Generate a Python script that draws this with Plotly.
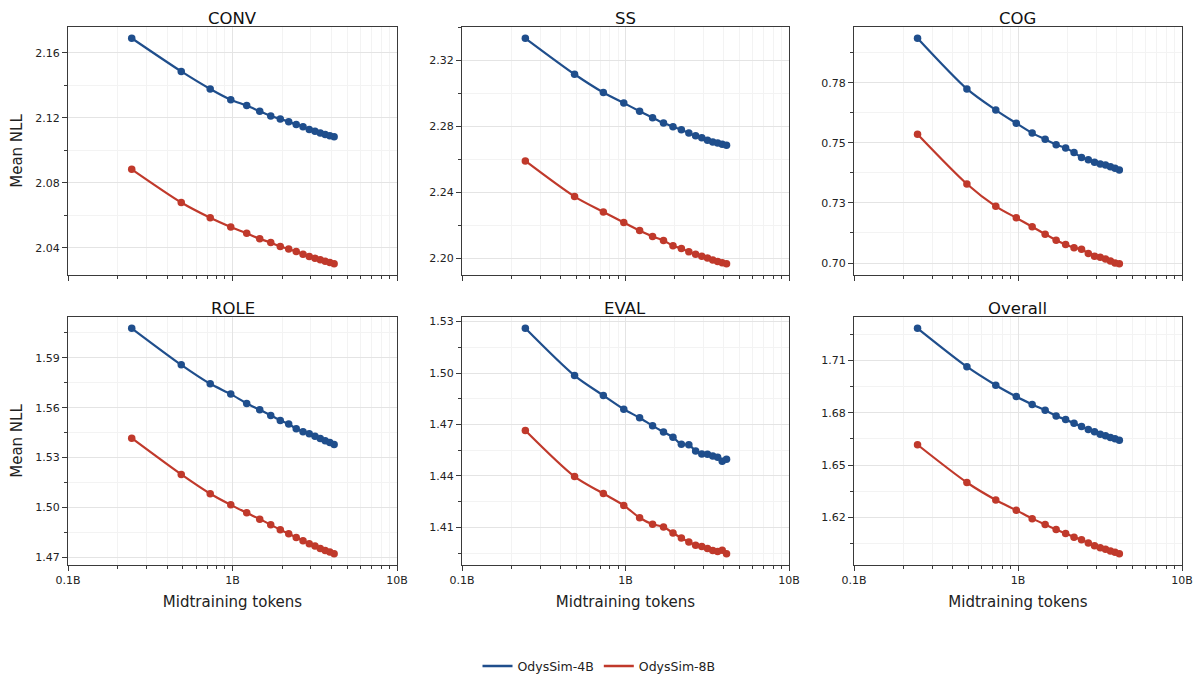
import plotly.graph_objects as go
from plotly.subplots import make_subplots

# ---------------- data ----------------
tokens_b = [0.244, 0.488, 0.732, 0.976, 1.22, 1.464, 1.708, 1.952, 2.196,
            2.44, 2.684, 2.928, 3.172, 3.416, 3.66, 3.904, 4.148]

panel_names = ["CONV", "SS", "COG", "ROLE", "EVAL", "Overall"]
series_names = ["OdysSim-4B", "OdysSim-8B"]

conv_4b = [2.169, 2.1486, 2.1378, 2.1312, 2.1276, 2.1241, 2.1212, 2.1194, 2.1176,
           2.1159, 2.1145, 2.1129, 2.1118, 2.1108, 2.1098, 2.1090, 2.1084]
conv_8b = [2.0884, 2.0680, 2.0586, 2.0529, 2.0490, 2.0456, 2.0433, 2.0409, 2.0394,
           2.0378, 2.0362, 2.0347, 2.0337, 2.0327, 2.0319, 2.0311, 2.0303]

ss_4b = [2.3335, 2.3117, 2.3006, 2.2942, 2.2893, 2.2853, 2.2821, 2.2799, 2.2780,
         2.2760, 2.2744, 2.2732, 2.2716, 2.2706, 2.2700, 2.2692, 2.2686]
ss_8b = [2.2591, 2.2375, 2.2282, 2.2218, 2.2169, 2.2133, 2.2109, 2.2077, 2.2060,
         2.2040, 2.2026, 2.2014, 2.2002, 2.1990, 2.1982, 2.1974, 2.1968]

cog_4b = [0.7936, 0.7725, 0.7637, 0.7582, 0.7541, 0.7515, 0.7493, 0.7479, 0.7460,
          0.7439, 0.7430, 0.7420, 0.7412, 0.7408, 0.7401, 0.7395, 0.7387]
cog_8b = [0.7536, 0.7329, 0.7236, 0.7188, 0.7151, 0.7120, 0.7095, 0.7077, 0.7064,
          0.7057, 0.7040, 0.7028, 0.7024, 0.7017, 0.7008, 0.7000, 0.6997]

role_4b = [1.6078, 1.5858, 1.5744, 1.5682, 1.5626, 1.5588, 1.5554, 1.5524, 1.5502,
           1.5474, 1.5456, 1.5443, 1.5429, 1.5415, 1.5401, 1.5391, 1.5379]
role_8b = [1.5417, 1.5199, 1.5083, 1.5016, 1.4968, 1.4930, 1.4896, 1.4866, 1.4842,
           1.4820, 1.4800, 1.4782, 1.4768, 1.4754, 1.4742, 1.4732, 1.4722]

eval_4b = [1.5261, 1.4985, 1.4869, 1.4789, 1.4739, 1.4692, 1.4656, 1.4625, 1.4584,
           1.4582, 1.4545, 1.4528, 1.4526, 1.4516, 1.4509, 1.4485, 1.4497]
eval_8b = [1.4665, 1.4396, 1.4297, 1.4228, 1.4156, 1.4118, 1.4102, 1.4067, 1.4038,
           1.4015, 1.3996, 1.3988, 1.3976, 1.3965, 1.3959, 1.3967, 1.3946]

overall_4b = [1.7284, 1.7064, 1.6958, 1.6893, 1.6848, 1.6814, 1.6782, 1.6761, 1.6740,
              1.6721, 1.6704, 1.6691, 1.6677, 1.6668, 1.6658, 1.6651, 1.6643]
overall_8b = [1.6617, 1.6401, 1.6301, 1.6242, 1.6194, 1.6160, 1.6132, 1.6109, 1.6088,
              1.6073, 1.6054, 1.6039, 1.6027, 1.6018, 1.6008, 1.6001, 1.5993]

# y tick values / labels per panel
conv_ticks = [2.04, 2.08, 2.12, 2.16]
conv_labels = ["2.04", "2.08", "2.12", "2.16"]
ss_ticks = [2.20, 2.24, 2.28, 2.32]
ss_labels = ["2.20", "2.24", "2.28", "2.32"]
cog_ticks = [0.70, 0.725, 0.75, 0.775]
cog_labels = ["0.70", "0.73", "0.75", "0.78"]
role_ticks = [1.47, 1.50, 1.53, 1.56, 1.59]
role_labels = ["1.47", "1.50", "1.53", "1.56", "1.59"]
eval_ticks = [1.41, 1.44, 1.47, 1.50, 1.53]
eval_labels = ["1.41", "1.44", "1.47", "1.50", "1.53"]
overall_ticks = [1.62, 1.65, 1.68, 1.71]
overall_labels = ["1.62", "1.65", "1.68", "1.71"]

x_ticks = [0.1, 1, 10]
x_labels = ["0.1B", "1B", "10B"]

# ---------------- style ----------------
FONT = "DejaVu Sans"
COLORS = ["#1f4e8c", "#c0392b"]
SPINE = "#3a3a3a"
GRID = "#e4e4e4"
MINOR_GRID = "#f3f3f3"

panels = [
    (conv_4b, conv_8b, conv_ticks, conv_labels),
    (ss_4b, ss_8b, ss_ticks, ss_labels),
    (cog_4b, cog_8b, cog_ticks, cog_labels),
    (role_4b, role_8b, role_ticks, role_labels),
    (eval_4b, eval_8b, eval_ticks, eval_labels),
    (overall_4b, overall_8b, overall_ticks, overall_labels),
]

# the page body adds an 8px offset; lay out in page coordinates minus 8
OFF = 8
W, H = 1203 - OFF, 679 - OFF
col_px = [(68 - OFF, 397 - OFF), (462 - OFF, 789 - OFF), (854 - OFF, 1182 - OFF)]
row_px = [(27 - OFF, 275 - OFF), (317 - OFF, 565 - OFF)]
ML = col_px[0][0]
MR = W - col_px[2][1]
MT = row_px[0][0]
MB = H - row_px[1][1]
pw = W - ML - MR
ph = H - MT - MB
x_domains = [[(a - ML) / pw, (b - ML) / pw] for a, b in col_px]
y_domains = [[(H - MB - b) / ph, (H - MB - a) / ph] for a, b in row_px]

fig = make_subplots(rows=2, cols=3)

for i, (s4, s8, tv, tt) in enumerate(panels):
    r, c = i // 3 + 1, i % 3 + 1
    for j, ys in enumerate([s4, s8]):
        fig.add_trace(go.Scatter(
            x=tokens_b, y=ys, mode="lines+markers",
            line=dict(color=COLORS[j], width=2.2, shape="spline", smoothing=0.8),
            marker=dict(color=COLORS[j], size=7.5),
            showlegend=False, name=series_names[j], hoverinfo="skip"),
            row=r, col=c)
    lo = min(min(s4), min(s8))
    hi = max(max(s4), max(s8))
    pad = (hi - lo) * 0.05
    step = tv[1] - tv[0]
    fig.update_yaxes(
        range=[lo - pad, hi + pad], tickmode="array", tickvals=tv, ticktext=tt,
        ticks="outside", ticklen=5, tickwidth=1, tickcolor=SPINE,
        showline=True, linecolor=SPINE, linewidth=1.1, mirror=True,
        showgrid=True, gridcolor=GRID, gridwidth=1, zeroline=False,
        tickfont=dict(family=FONT, size=11, color="#222"),
        minor=dict(tick0=tv[0], dtick=step / 2, ticks="outside", ticklen=3,
                   tickcolor=SPINE, showgrid=True, gridcolor=MINOR_GRID),
        domain=y_domains[r - 1],
        title=dict(text="Mean NLL" if c == 1 else "",
                   font=dict(family=FONT, size=15, color="#222"), standoff=9),
        row=r, col=c)
    fig.update_xaxes(
        type="log", range=[-1, 1], tickmode="array", tickvals=x_ticks,
        ticktext=x_labels, showticklabels=(r == 2),
        ticks="outside", ticklen=5, tickwidth=1, tickcolor=SPINE,
        showline=True, linecolor=SPINE, linewidth=1.1, mirror=True,
        showgrid=True, gridcolor=GRID, gridwidth=1, zeroline=False,
        tickfont=dict(family=FONT, size=11, color="#222"),
        minor=dict(dtick="D1", ticks="outside", ticklen=3, tickcolor=SPINE,
                   showgrid=True, gridcolor=MINOR_GRID),
        domain=x_domains[c - 1],
        title=dict(text="Midtraining tokens" if r == 2 else "",
                   font=dict(family=FONT, size=15, color="#222"), standoff=10),
        row=r, col=c)
    fig.add_annotation(
        text=panel_names[i], xref="paper", yref="paper",
        x=sum(x_domains[c - 1]) / 2, y=y_domains[r - 1][1],
        xanchor="center", yanchor="bottom", yshift=-2, showarrow=False,
        borderpad=0,
        font=dict(family=FONT, size=16.5, color="#111"))

# legend-only entries
for j, nm in enumerate(series_names):
    fig.add_trace(go.Scatter(x=[None], y=[None], mode="lines", name=nm,
                             line=dict(color=COLORS[j], width=2.5),
                             showlegend=True), row=1, col=1)

fig.update_layout(
    width=W, height=H, autosize=False,
    margin=dict(l=ML, r=MR, t=MT, b=MB, autoexpand=False),
    paper_bgcolor="white", plot_bgcolor="white",
    font=dict(family=FONT, color="#222"),
    legend=dict(orientation="h", xref="container", yref="container",
                x=(599 - OFF) / W, xanchor="center", y=0.019, yanchor="middle",
                font=dict(family=FONT, size=12.5, color="#222"),
                itemwidth=30, tracegroupgap=0),
)

fig.write_html("out.html")
